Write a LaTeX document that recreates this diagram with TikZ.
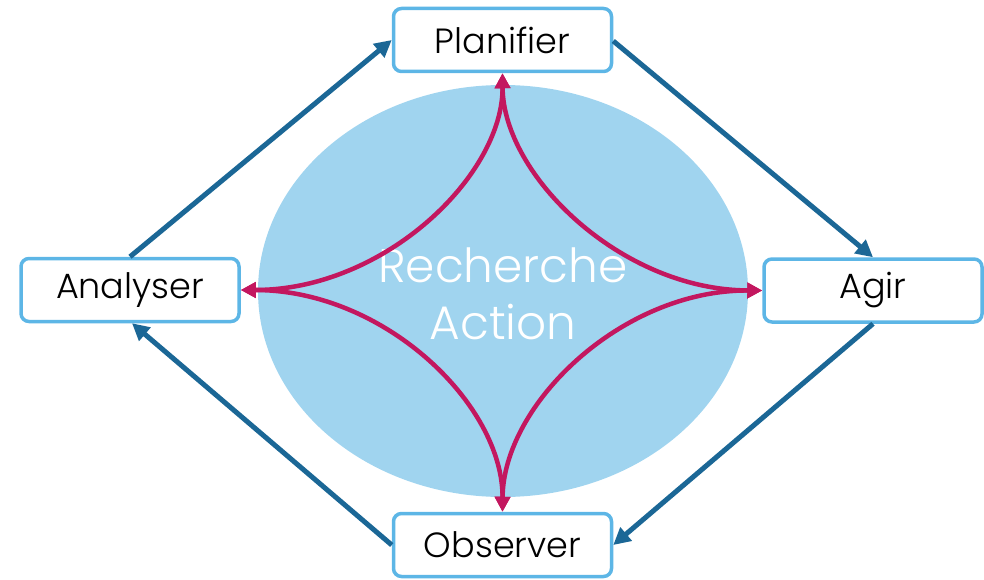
\documentclass[tikz,border=0pt]{standalone}
\usepackage{fontspec}
\setmainfont{Poppins}[UprightFont=* Light]
\usetikzlibrary{arrows.meta}
\definecolor{boxline}{HTML}{5DB6E6}
\definecolor{ellfill}{HTML}{A0D4EF}
\definecolor{cyclearrow}{HTML}{1B6796}
\definecolor{magarrow}{HTML}{C3175F}
\tikzset{
  stagebox/.style={draw=boxline, line width=3.5pt, rounded corners=8pt, fill=white,
    minimum width=218pt, minimum height=63pt, inner sep=0pt, font=\fontsize{35}{42}\selectfont, text=black},
  cycle/.style={draw=cyclearrow, line width=5pt, -{Triangle[length=17pt,width=17pt]}},
  inner/.style={draw=magarrow, line width=4.5pt, {Triangle[length=15pt,width=15pt]}-{Triangle[length=15pt,width=15pt]}}
}
\begin{document}
\begin{tikzpicture}[x=1pt,y=-1pt]
\useasboundingbox (0,0) rectangle (984,580);
\fill[ellfill] (503,291) ellipse [x radius=245, y radius=206];
\node[align=center, text=white, font=\fontsize{47}{57}\selectfont] (title) at (503,294) {Recherche\\Action};
\node[stagebox] (plan) at (502.5,40) {Planifier};
\node[stagebox] (ana) at (130,290) {Analyser};
\node[stagebox] (agir) at (873,290.5) {Agir};
\node[stagebox] (obs) at (502.5,545) {Observer};
% cycle arrows
\draw[cycle] (ana.north) -- (plan.west);
\draw[cycle] ([yshift=-1pt]plan.east) -- (agir.north);
\draw[cycle] (agir.south) -- (obs.east);
\draw[cycle] (obs.west) -- ([xshift=2pt]ana.south);
% inner arrows
\draw[inner] (plan.south) .. controls (503,175) and (385,290) .. (ana.east);
\draw[inner] (plan.south) .. controls (503,175) and (621,290) .. (agir.west);
\draw[inner] (obs.north) .. controls (503,405) and (385,290) .. (ana.east);
\draw[inner] (obs.north) .. controls (503,405) and (621,290) .. (agir.west);
\end{tikzpicture}
\end{document}
